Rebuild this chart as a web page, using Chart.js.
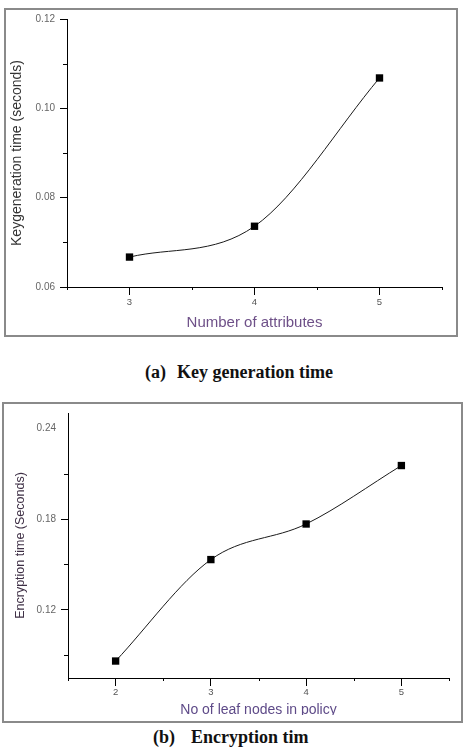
<!DOCTYPE html>
<html><head><meta charset="utf-8">
<script src="https://cdn.jsdelivr.net/npm/chart.js@4"></script>
<style>
html,body{margin:0;padding:0;background:#fff;width:463px;height:748px;overflow:hidden;position:relative}
.frame{position:absolute;border:2px solid #8a8a8a;box-sizing:border-box}
.cv{position:absolute;left:0}
.cap{position:absolute;font-family:"Liberation Serif","Times New Roman",serif;font-weight:bold;font-size:18px;color:#111;white-space:pre;line-height:20px}
</style></head><body>
<div class="frame" style="left:4px;top:8px;width:454px;height:329px"></div>
<div class="cv" style="top:0;width:463px;height:340px"><canvas id="ca" width="463" height="340"></canvas></div>
<div class="cap" style="left:145px;top:362px">(a)<span style="margin-left:11px">Key generation time</span></div>
<div class="frame" style="left:2px;top:402px;width:461px;height:321px"></div>
<div class="cv" style="top:400px;width:463px;height:315px;overflow:hidden"><canvas id="cb" width="463" height="330"></canvas></div>
<div class="cap" style="left:153px;top:727px">(b)<span style="margin-left:16px">Encryption tim</span></div>
<script>
// ---- Chart (a) data ----
const catsA = [3, 4, 5];
const valsA = [0.0667, 0.0736, 0.1068];
const yMajorA = [0.06, 0.08, 0.10, 0.12];
const yMinorA = [0.07, 0.09, 0.11];
const yLabelsA = ['0.06', '0.08', '0.10', '0.12'];
const xMajorA = [3, 4, 5];
const xMinorA = [2.5, 3.5, 4.5, 5.5];
const xLabelsA = ['3', '4', '5'];

// ---- Chart (b) data ----
const catsB = [2, 3, 4, 5];
const valsB = [0.0862, 0.1532, 0.1767, 0.2153];
const yMajorB = [0.12, 0.18, 0.24];
const yMinorB = [0.09, 0.15, 0.21];
const yLabelsB = ['0.12', '0.18', '0.24'];
const yNoMarkB = [0.24];
const xMajorB = [2, 3, 4, 5];
const xMinorB = [1.5, 2.5, 3.5, 4.5, 5.5];
const xLabelsB = ['2', '3', '4', '5'];

const minorTicks = {
  id: 'minorTicks',
  afterDraw(chart, args, opts) {
    const {ctx} = chart;
    const x = chart.scales.x, y = chart.scales.y;
    ctx.save();
    ctx.strokeStyle = '#000';
    ctx.lineWidth = 1;
    ctx.beginPath();
    (opts.xMinor || []).forEach(v => {
      const px = Math.round(x.getPixelForValue(v)) + 0.5;
      ctx.moveTo(px, x.top);
      ctx.lineTo(px, x.top + opts.xLen);
    });
    (opts.yMinor || []).forEach(v => {
      const py = Math.round(y.getPixelForValue(v)) + 0.5;
      ctx.moveTo(y.right, py);
      ctx.lineTo(y.right - opts.yLen, py);
    });
    ctx.stroke();
    ctx.restore();
  }
};

function makeChart(id, o) {
  return new Chart(document.getElementById(id), {
    type: 'line',
    data: {
      datasets: [{
        data: o.cats.map((c, i) => ({x: c, y: o.vals[i]})),
        borderColor: '#1a1a1a',
        borderWidth: 1,
        cubicInterpolationMode: 'monotone',
        pointStyle: 'rect',
        pointRadius: 5.2,
        pointBackgroundColor: '#000',
        pointBorderWidth: 0,
        fill: false
      }]
    },
    options: {
      responsive: false,
      animation: false,
      devicePixelRatio: 1,
      layout: {padding: {left: 0, top: o.top, right: o.right, bottom: 0}},
      plugins: {
        legend: {display: false},
        tooltip: {enabled: false},
        minorTicks: {xMinor: o.xMinor, yMinor: o.yMinor, xLen: 3, yLen: 4}
      },
      scales: {
        x: {
          type: 'linear', min: o.xmin, max: o.xmax,
          afterBuildTicks: s => { s.ticks = o.xMajor.map(v => ({value: v})); },
          afterFit: s => { s.height = o.xh; },
          ticks: {
            callback: (v, i) => o.xLabels[i],
            font: {family: 'Liberation Sans', size: 9.5},
            color: '#555', padding: o.xpad, maxRotation: 0, autoSkip: false
          },
          grid: {drawOnChartArea: false, tickLength: 8, tickColor: '#000', tickWidth: 1},
          border: {color: '#000', width: 1},
          title: {
            display: true, text: o.xTitle, color: o.xTitleColor,
            font: {family: 'Liberation Sans', size: o.xTitleSize},
            padding: {top: 0, bottom: o.xtpad}
          }
        },
        y: {
          type: 'linear', min: o.ymin, max: o.ymax,
          afterBuildTicks: s => { s.ticks = o.yMajor.map(v => ({value: v})); },
          afterFit: s => { s.width = o.yw; },
          ticks: {
            callback: (v, i) => o.yLabels[i],
            font: {family: 'Liberation Sans', size: 10},
            color: '#666', padding: 5, autoSkip: false
          },
          grid: {
            drawOnChartArea: false, tickLength: 7, tickWidth: 1,
            tickColor: c => (o.yNoMark.includes(c.tick && c.tick.value) ? 'rgba(0,0,0,0)' : '#000')
          },
          border: {color: '#000', width: 1},
          title: {
            display: true, text: o.yTitle, color: o.yTitleColor,
            font: {family: 'Liberation Sans', size: o.yTitleSize},
            padding: {top: o.ytpad, bottom: 0}
          }
        }
      }
    },
    plugins: [minorTicks]
  });
}

makeChart('ca', {
  cats: catsA, vals: valsA,
  xmin: 2.5, xmax: 5.5, ymin: 0.06, ymax: 0.12,
  xMajor: xMajorA, xMinor: xMinorA, xLabels: xLabelsA,
  yMajor: yMajorA, yMinor: yMinorA, yLabels: yLabelsA, yNoMark: [],
  top: 19, right: 21, yw: 67, xh: 53, xpad: 2,
  xTitle: 'Number of attributes', xTitleColor: '#6e5088', xTitleSize: 15, xtpad: 8,
  yTitle: 'Keygeneration time (seconds)', yTitleColor: '#333', yTitleSize: 14, ytpad: 8.5
});

makeChart('cb', {
  cats: catsB, vals: valsB,
  xmin: 1.5, xmax: 5.5, ymin: 0.075, ymax: 0.25,
  xMajor: xMajorB, xMinor: xMinorB, xLabels: xLabelsB,
  yMajor: yMajorB, yMinor: yMinorB, yLabels: yLabelsB, yNoMark: yNoMarkB,
  top: 13, right: 14, yw: 68, xh: 52, xpad: 1,
  xTitle: 'No of leaf nodes in policy', xTitleColor: '#5e4a88', xTitleSize: 14, xtpad: 11.5,
  yTitle: 'Encryption time (Seconds)', yTitleColor: '#3f3046', yTitleSize: 12.5, ytpad: 13.5
});
</script>
</body></html>
